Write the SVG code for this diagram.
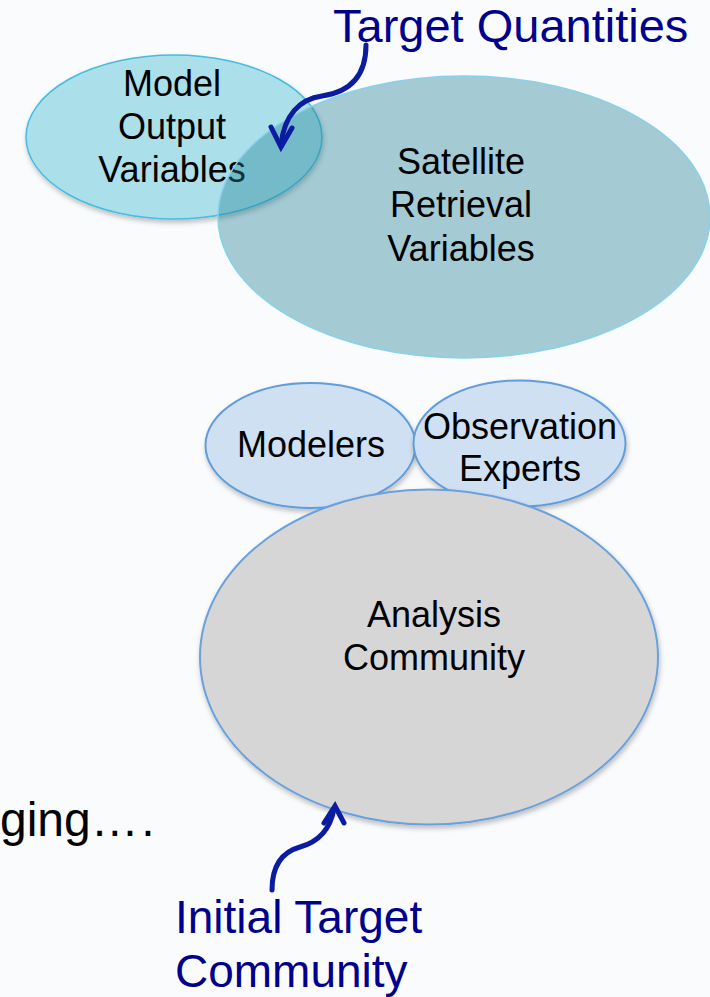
<svg xmlns="http://www.w3.org/2000/svg" width="710" height="997" viewBox="0 0 710 997">
<defs>
<filter id="sh" x="-10%" y="-10%" width="125%" height="130%">
<feDropShadow dx="1" dy="3" stdDeviation="2.5" flood-color="#000" flood-opacity="0.25"/>
</filter>
</defs>
<style>
.t{font-family:"Liberation Sans",Arial,sans-serif;font-size:36px;fill:#000;text-anchor:middle}
.b{font-family:"Liberation Sans",Arial,sans-serif;fill:#00008b}
.arr{fill:none;stroke:#0b1ca0;stroke-width:5;stroke-linecap:round;stroke-linejoin:miter}
</style>
<rect width="710" height="997" fill="#fafbfd"/>
<g id="model-output">
<ellipse cx="174" cy="137" rx="148" ry="82" fill="#abdfea" stroke="#45bce0" stroke-width="1.5" filter="url(#sh)"/>
<text class="t" x="172" y="96">Model</text>
<text class="t" x="172" y="139">Output</text>
<text class="t" x="172" y="182">Variables</text>
</g>
<g id="satellite">
<ellipse cx="464" cy="217" rx="246" ry="141" fill="#238195" fill-opacity="0.4" stroke="#86d2ea" stroke-width="1.5"/>
<text class="t" x="461" y="174">Satellite</text>
<text class="t" x="461" y="217">Retrieval</text>
<text class="t" x="461" y="261">Variables</text>
</g>
<g id="modelers">
<ellipse cx="310.5" cy="445.5" rx="105" ry="62.5" fill="#cfe0f3" stroke="#619dd9" stroke-width="2" filter="url(#sh)"/>
<text class="t" x="311" y="457">Modelers</text>
</g>
<g id="observation">
<ellipse cx="519.5" cy="443.5" rx="106" ry="63" fill="#cfe0f3" stroke="#619dd9" stroke-width="2" filter="url(#sh)"/>
<text class="t" x="520" y="439">Observation</text>
<text class="t" x="520" y="481">Experts</text>
</g>
<g id="analysis">
<ellipse cx="429" cy="657" rx="229" ry="167.5" fill="#d6d6d6" stroke="#6aa1dc" stroke-width="2" filter="url(#sh)"/>
<text class="t" x="434" y="627">Analysis</text>
<text class="t" x="434" y="670">Community</text>
</g>
<g id="target-quantities">
<text class="b" x="333" y="42" font-size="47">Target Quantities</text>
</g>
<g id="initial-target">
<text class="b" x="175" y="933" font-size="46">Initial Target</text>
<text class="b" x="175" y="987" font-size="46">Community</text>
</g>
<g id="emerging">
<text x="0" y="836" font-family="Liberation Sans, Arial, sans-serif" font-size="48" fill="#000">ging<tspan letter-spacing="2.5">….</tspan></text>
</g>
<g id="connectors">
<path class="arr" d="M366,45 C366,76 350,92 322,96 C300,99 284,115 281,145"/>
<path class="arr" d="M271,127 L281,147 L292,128"/>
<path class="arr" d="M272,890 C272,866 282,852 300,847 C318,842 330,830 334,809"/>
<path class="arr" d="M324,823 L335,806 L344,823"/>
</g>
</svg>
